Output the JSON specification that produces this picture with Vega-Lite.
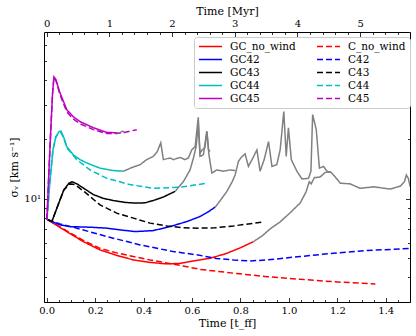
{
  "$schema": "https://vega.github.io/schema/vega-lite/v6.json",
  "width": 366,
  "height": 270,
  "autosize": {"type": "none"},
  "padding": {"left": 44, "top": 32, "right": 6, "bottom": 34},
  "background": "white",
  "config": {
    "view": {"stroke": "black", "strokeWidth": 1},
    "axis": {"domain": false, "grid": false, "labelFont": "DejaVu Serif", "labelFontSize": 10, "labelColor": "black", "tickColor": "black", "tickWidth": 0.8, "titleFont": "DejaVu Serif", "titleFontSize": 11, "titleFontWeight": "normal", "titleColor": "black"},
    "legend": {"labelFont": "DejaVu Serif", "labelFontSize": 10.5, "labelColor": "black"}
  },
  "datasets": {
    "curves": [
      {"s":"GC_no_wind","t":0.005,"v":7.82},{"s":"GC_no_wind","t":0.083,"v":6.82},{"s":"GC_no_wind","t":0.151,"v":6.07},{"s":"GC_no_wind","t":0.22,"v":5.51},{"s":"GC_no_wind","t":0.289,"v":5.17},{"s":"GC_no_wind","t":0.358,"v":4.90},{"s":"GC_no_wind","t":0.427,"v":4.76},{"s":"GC_no_wind","t":0.496,"v":4.68},{"s":"GC_no_wind","t":0.551,"v":4.71},{"s":"GC_no_wind","t":0.605,"v":4.84},{"s":"GC_no_wind","t":0.675,"v":5.00},{"s":"GC_no_wind","t":0.737,"v":5.26},{"s":"GC_no_wind","t":0.799,"v":5.64},{"s":"GC_no_wind","t":0.854,"v":6.07},
      {"s":"C_no_wind","t":0.005,"v":7.82},{"s":"C_no_wind","t":0.083,"v":6.87},{"s":"C_no_wind","t":0.151,"v":6.15},{"s":"C_no_wind","t":0.22,"v":5.61},{"s":"C_no_wind","t":0.289,"v":5.32},{"s":"C_no_wind","t":0.358,"v":5.10},{"s":"C_no_wind","t":0.427,"v":4.90},{"s":"C_no_wind","t":0.496,"v":4.73},{"s":"C_no_wind","t":0.563,"v":4.57},{"s":"C_no_wind","t":0.633,"v":4.39},{"s":"C_no_wind","t":0.771,"v":4.20},{"s":"C_no_wind","t":0.909,"v":4.03},{"s":"C_no_wind","t":1.047,"v":3.91},{"s":"C_no_wind","t":1.184,"v":3.80},{"s":"C_no_wind","t":1.357,"v":3.70},
      {"s":"g_no_wind","t":0.854,"v":6.07},{"s":"g_no_wind","t":0.890,"v":6.49},{"s":"g_no_wind","t":0.923,"v":7.05},{"s":"g_no_wind","t":0.964,"v":7.64},{"s":"g_no_wind","t":1.005,"v":8.49},{"s":"g_no_wind","t":1.047,"v":9.54},{"s":"g_no_wind","t":1.071,"v":10.85},{"s":"g_no_wind","t":1.084,"v":12.2},{"s":"g_no_wind","t":1.092,"v":11.9},{"s":"g_no_wind","t":1.105,"v":12.8},{"s":"g_no_wind","t":1.129,"v":12.9},{"s":"g_no_wind","t":1.150,"v":13.6},{"s":"g_no_wind","t":1.171,"v":13.7},{"s":"g_no_wind","t":1.187,"v":13.1},{"s":"g_no_wind","t":1.212,"v":12.0},{"s":"g_no_wind","t":1.253,"v":11.9},{"s":"g_no_wind","t":1.294,"v":11.3},{"s":"g_no_wind","t":1.350,"v":11.5},{"s":"g_no_wind","t":1.419,"v":11.2},{"s":"g_no_wind","t":1.460,"v":11.6},{"s":"g_no_wind","t":1.477,"v":12.2},{"s":"g_no_wind","t":1.485,"v":13.2},{"s":"g_no_wind","t":1.493,"v":12.7},{"s":"g_no_wind","t":1.501,"v":11.5},
      {"s":"GC42","t":0.005,"v":7.82},{"s":"GC42","t":0.055,"v":7.38},{"s":"GC42","t":0.096,"v":7.23},{"s":"GC42","t":0.179,"v":7.18},{"s":"GC42","t":0.248,"v":7.10},{"s":"GC42","t":0.303,"v":6.96},{"s":"GC42","t":0.365,"v":6.82},{"s":"GC42","t":0.44,"v":6.90},{"s":"GC42","t":0.509,"v":7.23},{"s":"GC42","t":0.579,"v":7.67},{"s":"GC42","t":0.633,"v":8.13},{"s":"GC42","t":0.667,"v":8.59},{"s":"GC42","t":0.696,"v":9.08},
      {"s":"C42","t":0.005,"v":7.82},{"s":"C42","t":0.055,"v":7.45},{"s":"C42","t":0.110,"v":7.18},{"s":"C42","t":0.248,"v":6.44},{"s":"C42","t":0.386,"v":5.84},{"s":"C42","t":0.523,"v":5.40},{"s":"C42","t":0.620,"v":5.20},{"s":"C42","t":0.700,"v":4.99},{"s":"C42","t":0.771,"v":4.90},{"s":"C42","t":0.840,"v":4.84},{"s":"C42","t":0.909,"v":4.90},{"s":"C42","t":1.047,"v":5.10},{"s":"C42","t":1.184,"v":5.30},{"s":"C42","t":1.322,"v":5.47},{"s":"C42","t":1.501,"v":5.60},
      {"s":"g42","t":0.696,"v":9.08},{"s":"g42","t":0.716,"v":9.77},{"s":"g42","t":0.744,"v":10.9},{"s":"g42","t":0.766,"v":12.2},{"s":"g42","t":0.778,"v":13.2},{"s":"g42","t":0.792,"v":15.5},{"s":"g42","t":0.803,"v":16.2},{"s":"g42","t":0.819,"v":16.9},{"s":"g42","t":0.833,"v":14.6},{"s":"g42","t":0.848,"v":15.8},{"s":"g42","t":0.868,"v":17.7},{"s":"g42","t":0.881,"v":13.8},{"s":"g42","t":0.898,"v":15.8},{"s":"g42","t":0.916,"v":19.5},{"s":"g42","t":0.930,"v":14.6},{"s":"g42","t":0.950,"v":14.9},{"s":"g42","t":0.964,"v":17.7},{"s":"g42","t":0.979,"v":27.7},{"s":"g42","t":0.989,"v":16.4},{"s":"g42","t":0.998,"v":22.9},{"s":"g42","t":1.010,"v":15.8},{"s":"g42","t":1.033,"v":13.8},{"s":"g42","t":1.054,"v":12.6},{"s":"g42","t":1.081,"v":12.7},{"s":"g42","t":1.091,"v":13.8},{"s":"g42","t":1.098,"v":26.7},{"s":"g42","t":1.113,"v":22.4},{"s":"g42","t":1.126,"v":14.3},{"s":"g42","t":1.143,"v":14.6},{"s":"g42","t":1.157,"v":13.8},{"s":"g42","t":1.171,"v":13.6},
      {"s":"GC43","t":0.005,"v":7.82},{"s":"GC43","t":0.022,"v":7.7},{"s":"GC43","t":0.047,"v":9.3},{"s":"GC43","t":0.071,"v":11.1},{"s":"GC43","t":0.092,"v":12.0},{"s":"GC43","t":0.105,"v":12.2},{"s":"GC43","t":0.125,"v":11.9},{"s":"GC43","t":0.158,"v":11.2},{"s":"GC43","t":0.193,"v":10.5},{"s":"GC43","t":0.233,"v":10.06},{"s":"GC43","t":0.275,"v":9.80},{"s":"GC43","t":0.324,"v":9.59},{"s":"GC43","t":0.365,"v":9.51},{"s":"GC43","t":0.406,"v":9.54},{"s":"GC43","t":0.44,"v":9.80},{"s":"GC43","t":0.481,"v":10.2},{"s":"GC43","t":0.509,"v":10.6},{"s":"GC43","t":0.530,"v":10.9},
      {"s":"C43","t":0.005,"v":7.82},{"s":"C43","t":0.022,"v":7.7},{"s":"C43","t":0.047,"v":9.3},{"s":"C43","t":0.071,"v":11.1},{"s":"C43","t":0.096,"v":11.9},{"s":"C43","t":0.117,"v":11.8},{"s":"C43","t":0.158,"v":10.8},{"s":"C43","t":0.220,"v":9.32},{"s":"C43","t":0.289,"v":8.46},{"s":"C43","t":0.358,"v":7.98},{"s":"C43","t":0.427,"v":7.53},{"s":"C43","t":0.496,"v":7.29},{"s":"C43","t":0.563,"v":7.13},{"s":"C43","t":0.633,"v":7.10},{"s":"C43","t":0.695,"v":7.13},{"s":"C43","t":0.771,"v":7.29},{"s":"C43","t":0.893,"v":7.62},
      {"s":"g43","t":0.530,"v":10.9},{"s":"g43","t":0.564,"v":12.2},{"s":"g43","t":0.592,"v":14.0},{"s":"g43","t":0.606,"v":16.1},{"s":"g43","t":0.617,"v":18.4},{"s":"g43","t":0.626,"v":24.0},{"s":"g43","t":0.633,"v":17.0},{"s":"g43","t":0.642,"v":17.7},{"s":"g43","t":0.653,"v":18.1},{"s":"g43","t":0.662,"v":21.9},{"s":"g43","t":0.670,"v":16.7},{"s":"g43","t":0.682,"v":13.5},{"s":"g43","t":0.702,"v":14.0},{"s":"g43","t":0.730,"v":13.8},{"s":"g43","t":0.757,"v":14.0},{"s":"g43","t":0.778,"v":13.9},
      {"s":"GC44","t":0.001,"v":7.82},{"s":"GC44","t":0.014,"v":12.5},{"s":"GC44","t":0.026,"v":17.7},{"s":"GC44","t":0.038,"v":20.6},{"s":"GC44","t":0.051,"v":21.9},{"s":"GC44","t":0.059,"v":22.0},{"s":"GC44","t":0.071,"v":20.4},{"s":"GC44","t":0.083,"v":18.4},{"s":"GC44","t":0.110,"v":16.7},{"s":"GC44","t":0.138,"v":15.8},{"s":"GC44","t":0.165,"v":15.2},{"s":"GC44","t":0.220,"v":14.3},{"s":"GC44","t":0.275,"v":13.9},{"s":"GC44","t":0.317,"v":13.8},
      {"s":"C44","t":0.001,"v":7.82},{"s":"C44","t":0.014,"v":12.5},{"s":"C44","t":0.026,"v":17.7},{"s":"C44","t":0.038,"v":20.6},{"s":"C44","t":0.051,"v":21.7},{"s":"C44","t":0.059,"v":21.7},{"s":"C44","t":0.071,"v":20.2},{"s":"C44","t":0.084,"v":18.1},{"s":"C44","t":0.124,"v":15.8},{"s":"C44","t":0.179,"v":14.0},{"s":"C44","t":0.248,"v":12.7},{"s":"C44","t":0.344,"v":11.8},{"s":"C44","t":0.440,"v":11.3},{"s":"C44","t":0.523,"v":11.4},{"s":"C44","t":0.564,"v":11.5},{"s":"C44","t":0.661,"v":12.0},
      {"s":"g44","t":0.317,"v":13.8},{"s":"g44","t":0.352,"v":14.4},{"s":"g44","t":0.386,"v":14.9},{"s":"g44","t":0.413,"v":15.8},{"s":"g44","t":0.440,"v":16.4},{"s":"g44","t":0.456,"v":17.3},{"s":"g44","t":0.471,"v":19.2},{"s":"g44","t":0.482,"v":15.8},{"s":"g44","t":0.509,"v":16.1},{"s":"g44","t":0.523,"v":15.8},{"s":"g44","t":0.551,"v":16.2},{"s":"g44","t":0.571,"v":15.8},{"s":"g44","t":0.585,"v":16.1},{"s":"g44","t":0.599,"v":17.7},{"s":"g44","t":0.613,"v":18.4},{"s":"g44","t":0.626,"v":25.9},{"s":"g44","t":0.633,"v":16.4},{"s":"g44","t":0.647,"v":16.7},{"s":"g44","t":0.661,"v":22.0},{"s":"g44","t":0.668,"v":17.7},{"s":"g44","t":0.675,"v":17.4},
      {"s":"GC45","t":0.001,"v":7.82},{"s":"GC45","t":0.0095,"v":14.0},{"s":"GC45","t":0.018,"v":23.7},{"s":"GC45","t":0.024,"v":33.7},{"s":"GC45","t":0.030,"v":41.5},{"s":"GC45","t":0.038,"v":40.2},{"s":"GC45","t":0.055,"v":34.4},{"s":"GC45","t":0.083,"v":28.3},{"s":"GC45","t":0.109,"v":26.1},{"s":"GC45","t":0.138,"v":24.6},{"s":"GC45","t":0.193,"v":22.9},{"s":"GC45","t":0.248,"v":21.7},{"s":"GC45","t":0.289,"v":21.6},
      {"s":"C45","t":0.001,"v":7.82},{"s":"C45","t":0.0095,"v":14.0},{"s":"C45","t":0.018,"v":23.7},{"s":"C45","t":0.024,"v":33.7},{"s":"C45","t":0.030,"v":41.2},{"s":"C45","t":0.038,"v":39.8},{"s":"C45","t":0.055,"v":33.7},{"s":"C45","t":0.083,"v":27.6},{"s":"C45","t":0.109,"v":25.4},{"s":"C45","t":0.138,"v":24.0},{"s":"C45","t":0.193,"v":22.4},{"s":"C45","t":0.248,"v":21.4},{"s":"C45","t":0.289,"v":21.4},{"s":"C45","t":0.322,"v":21.7},{"s":"C45","t":0.372,"v":22.4},
      {"s":"g45","t":0.289,"v":21.6},{"s":"g45","t":0.303,"v":21.6},{"s":"g45","t":0.311,"v":22.0},{"s":"g45","t":0.322,"v":21.8}
    ],
    "tff": [{"t": 0, "v": 10}],
    "myr": [{"myr": 0, "v": 10}]
  },
  "layer": [
    {
      "data": {"name": "curves"},
      "mark": {"type": "line", "strokeWidth": 1.5, "clip": true},
      "encoding": {
        "x": {"field": "t", "type": "quantitative", "scale": {"domain": [-0.011, 1.5], "nice": false, "zero": false},
              "axis": {"orient": "bottom", "values": [0, 0.2, 0.4, 0.6, 0.8, 1.0, 1.2, 1.4], "format": ".1f", "tickSize": -4.5, "labelPadding": 8, "title": "Time [t_ff]", "titlePadding": 2}},
        "y": {"field": "v", "type": "quantitative", "scale": {"type": "log", "domain": [3, 70], "nice": false},
              "axis": {"orient": "left", "values": [10], "labelExpr": "'10¹'", "tickSize": -4.5, "labelPadding": 8, "title": "σᵥ [km s⁻¹]", "titlePadding": 4}},
        "color": {"field": "s", "type": "nominal",
                  "scale": {"domain": ["GC_no_wind","GC42","GC43","GC44","GC45","C_no_wind","C42","C43","C44","C45","g_no_wind","g42","g43","g44","g45"],
                            "range": ["#ff0000","#0000ff","#000000","#00bfbf","#bf00bf","#ff0000","#0000ff","#000000","#00bfbf","#bf00bf","#808080","#808080","#808080","#808080","#808080"]},
                  "legend": {"values": ["GC_no_wind","GC42","GC43","GC44","GC45","C_no_wind","C42","C43","C44","C45"], "title": null, "orient": "none", "legendX": 150, "legendY": 5, "columns": 2, "fillColor": "white", "strokeColor": "#cccccc", "cornerRadius": 3, "padding": 4, "symbolType": "M-2.5,0H2.5", "symbolSize": 84.6, "symbolStrokeWidth": 1.5, "symbolOffset": 7, "labelOffset": 14, "rowPadding": 2, "columnPadding": 18}},
        "strokeDash": {"field": "s", "type": "nominal",
                  "scale": {"domain": ["GC_no_wind","GC42","GC43","GC44","GC45","C_no_wind","C42","C43","C44","C45","g_no_wind","g42","g43","g44","g45"],
                            "range": [[1,0],[1,0],[1,0],[1,0],[1,0],[6,3],[6,3],[6,3],[6,3],[6,3],[1,0],[1,0],[1,0],[1,0],[1,0]]},
                  "legend": {"values": ["GC_no_wind","GC42","GC43","GC44","GC45","C_no_wind","C42","C43","C44","C45"], "title": null, "orient": "none", "legendX": 150, "legendY": 5, "columns": 2, "fillColor": "white", "strokeColor": "#cccccc", "cornerRadius": 3, "padding": 4, "symbolType": "M-2.5,0H2.5", "symbolSize": 84.6, "symbolStrokeWidth": 1.5, "symbolOffset": 7, "labelOffset": 14, "rowPadding": 2, "columnPadding": 18}}
      }
    },
    {
      "data": {"name": "tff"},
      "mark": {"type": "point", "opacity": 0},
      "encoding": {
        "x": {"field": "t", "type": "quantitative", "scale": {"domain": [-0.011, 1.5], "nice": false, "zero": false},
              "axis": {"orient": "bottom", "values": [0.05,0.1,0.15,0.25,0.3,0.35,0.45,0.5,0.55,0.65,0.7,0.75,0.85,0.9,0.95,1.05,1.1,1.15,1.25,1.3,1.35,1.45], "labels": false, "tickSize": -2.5, "title": null}},
        "y": {"field": "v", "type": "quantitative", "scale": {"type": "log", "domain": [3, 70], "nice": false},
              "axis": {"orient": "left", "values": [3,4,5,6,7,8,9,20,30,40,50,60], "labels": false, "tickSize": -2.5, "title": null}}
      }
    },
    {
      "data": {"name": "myr"},
      "mark": {"type": "point", "opacity": 0},
      "encoding": {
        "x": {"field": "myr", "type": "quantitative", "scale": {"domain": [-0.0425, 5.795], "nice": false, "zero": false},
              "axis": {"orient": "top", "values": [0,1,2,3,4,5], "format": "d", "tickSize": -4.5, "labelPadding": 8, "title": "Time [Myr]", "titlePadding": 2}},
        "y": {"field": "v", "type": "quantitative", "scale": {"type": "log", "domain": [3, 70], "nice": false},
              "axis": {"orient": "right", "values": [10], "labels": false, "tickSize": -4.5, "title": null}}
      }
    },
    {
      "data": {"name": "myr"},
      "mark": {"type": "point", "opacity": 0},
      "encoding": {
        "x": {"field": "myr", "type": "quantitative", "scale": {"domain": [-0.0425, 5.795], "nice": false, "zero": false},
              "axis": {"orient": "top", "values": [0.2,0.4,0.6,0.8,1.2,1.4,1.6,1.8,2.2,2.4,2.6,2.8,3.2,3.4,3.6,3.8,4.2,4.4,4.6,4.8,5.2,5.4,5.6], "labels": false, "tickSize": -2.5, "title": null}},
        "y": {"field": "v", "type": "quantitative", "scale": {"type": "log", "domain": [3, 70], "nice": false},
              "axis": {"orient": "right", "values": [3,4,5,6,7,8,9,20,30,40,50,60], "labels": false, "tickSize": -2.5, "title": null}}
      }
    }
  ],
  "resolve": {"scale": {"x": "independent", "y": "independent"}, "axis": {"x": "independent", "y": "independent"}}
}
